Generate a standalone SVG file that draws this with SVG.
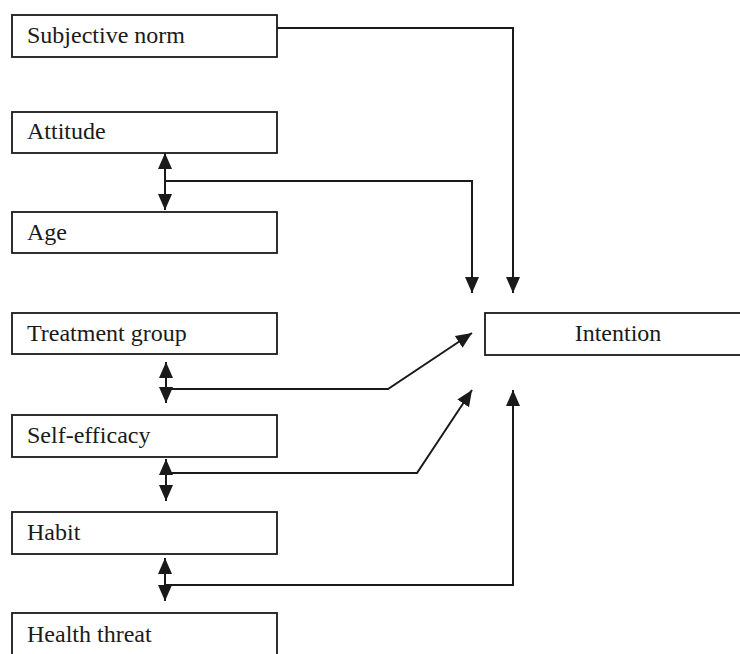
<svg xmlns="http://www.w3.org/2000/svg" width="740" height="654" viewBox="0 0 740 654">
<defs>
<style>
.box{fill:#fff;stroke:#1a1a1a;stroke-width:1.8}
.lbl{font-family:"Liberation Serif","Times New Roman",serif;font-size:24px;fill:#1a1a1a}
.ln{fill:none;stroke:#1a1a1a;stroke-width:2}
.ar{marker-end:url(#ah)}
.dbl{marker-start:url(#ahs);marker-end:url(#ah)}
</style>
<marker id="ah" markerUnits="userSpaceOnUse" markerWidth="16" markerHeight="16" viewBox="0 0 16 14" refX="16" refY="7" orient="auto">
<path d="M0,0 L16,7 L0,14 Z" fill="#1a1a1a"/>
</marker>
<marker id="ahs" markerUnits="userSpaceOnUse" markerWidth="16" markerHeight="16" viewBox="0 0 16 14" refX="0" refY="7" orient="auto">
<path d="M16,0 L0,7 L16,14 Z" fill="#1a1a1a"/>
</marker>
</defs>
<rect width="740" height="654" fill="#fff"/>
<g id="n-subjective-norm"><rect class="box" x="12" y="15" width="265" height="42"/><text class="lbl" x="27" y="43">Subjective norm</text></g>
<g id="n-attitude"><rect class="box" x="12" y="112" width="265" height="41"/><text class="lbl" x="27" y="139">Attitude</text></g>
<g id="n-age"><rect class="box" x="12" y="212" width="265" height="41"/><text class="lbl" x="27" y="240">Age</text></g>
<g id="n-treatment-group"><rect class="box" x="12" y="313" width="265" height="41"/><text class="lbl" x="27" y="341">Treatment group</text></g>
<g id="n-self-efficacy"><rect class="box" x="12" y="415" width="265" height="42"/><text class="lbl" x="27" y="443">Self-efficacy</text></g>
<g id="n-habit"><rect class="box" x="12" y="512" width="265" height="42"/><text class="lbl" x="27" y="540">Habit</text></g>
<g id="n-health-threat"><rect class="box" x="12" y="613" width="265" height="45"/><text class="lbl" x="27" y="642">Health threat</text></g>
<g id="n-intention"><rect class="box" x="485" y="313" width="258" height="42"/><text class="lbl" x="618" y="341" text-anchor="middle">Intention</text></g>
<g id="connectors">
<path class="ln ar" d="M277,28 H513 V293"/>
<path class="ln dbl" d="M165,153 V210"/>
<path class="ln ar" d="M165,181 H472 V293"/>
<path class="ln dbl" d="M166,362 V403"/>
<path class="ln ar" d="M166,389 H388 L472,333"/>
<path class="ln dbl" d="M166,459 V501"/>
<path class="ln ar" d="M166,473 H417 L472,390"/>
<path class="ln dbl" d="M165,558 V601"/>
<path class="ln ar" d="M165,585 H513 V390"/>
</g>
</svg>
